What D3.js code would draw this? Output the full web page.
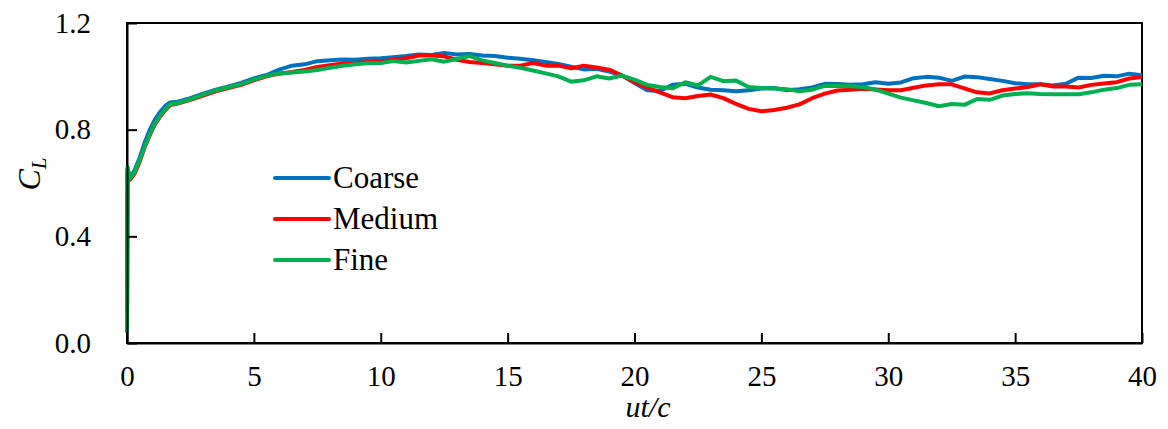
<!DOCTYPE html>
<html>
<head>
<meta charset="utf-8">
<script src="https://cdn.jsdelivr.net/npm/d3@7"></script>
<style>
  body { margin: 0; background: #fff; }
  #chart text { font-family: 'Liberation Serif'; }
</style>
</head>
<body>
<svg id="chart" width="1168" height="429"></svg>
<script>
// time axis (ut/c), shared by all three grids
const ut = [0, 0.02, 0.12, 0.3, 0.5, 0.7, 0.9, 1.1, 1.3, 1.5, 1.7,
  2.0, 2.5, 3.0, 3.5, 4.0, 4.5, 5.0, 5.5, 6.0, 6.5, 7.0, 7.5, 8.0, 8.5, 9.0, 9.5,
  10.0, 10.5, 11.0, 11.5, 12.0, 12.5, 13.0, 13.5, 14.0, 14.5, 15.0, 15.5, 16.0, 16.5,
  17.0, 17.5, 18.0, 18.5, 19.0, 19.5, 20.0, 20.5, 21.0, 21.5, 22.0, 22.5, 23.0, 23.5,
  24.0, 24.5, 25.0, 25.5, 26.0, 26.5, 27.0, 27.5, 28.0, 28.5, 29.0, 29.5, 30.0, 30.5,
  31.0, 31.5, 32.0, 32.5, 33.0, 33.5, 34.0, 34.5, 35.0, 35.5, 36.0, 36.5, 37.0, 37.5,
  38.0, 38.5, 39.0, 39.5, 40.0];

const coarse = [0.04, 0.65, 0.62, 0.648, 0.695, 0.752, 0.8, 0.838, 0.866, 0.888, 0.902,
  0.905, 0.918, 0.935, 0.95, 0.962, 0.975, 0.992, 1.005, 1.025, 1.04, 1.045, 1.057, 1.06, 1.063, 1.062, 1.066,
  1.068, 1.072, 1.076, 1.082, 1.08, 1.088, 1.082, 1.084, 1.078, 1.076, 1.07, 1.066, 1.06, 1.054,
  1.046, 1.036, 1.026, 1.028, 1.018, 1.004, 0.975, 0.948, 0.945, 0.968, 0.972, 0.958, 0.95, 0.948,
  0.944, 0.948, 0.954, 0.956, 0.948, 0.952, 0.958, 0.972, 0.971, 0.968, 0.97, 0.978, 0.972, 0.977,
  0.993, 0.998, 0.995, 0.983, 0.999, 0.997, 0.99, 0.983, 0.974, 0.97, 0.97, 0.966, 0.972, 0.995,
  0.994, 1.002, 1.0, 1.01, 1.004];

const medium = [0.04, 0.65, 0.612, 0.635, 0.68, 0.735, 0.78, 0.82, 0.848, 0.872, 0.892,
  0.898, 0.912, 0.928, 0.944, 0.956, 0.968, 0.985, 1.0, 1.01, 1.016, 1.024, 1.035, 1.042, 1.048, 1.05, 1.054,
  1.056, 1.062, 1.068, 1.078, 1.078, 1.075, 1.062, 1.054, 1.05, 1.045, 1.04, 1.04, 1.05, 1.04,
  1.04, 1.03, 1.04, 1.033, 1.025, 1.003, 0.978, 0.958, 0.94, 0.922, 0.918, 0.926, 0.932, 0.918,
  0.897, 0.878, 0.869, 0.874, 0.882, 0.895, 0.918, 0.935, 0.947, 0.95, 0.953, 0.951, 0.948, 0.948,
  0.957, 0.966, 0.97, 0.97, 0.955, 0.94, 0.936, 0.948, 0.954, 0.96, 0.97, 0.962, 0.962, 0.958,
  0.968, 0.973, 0.978, 0.992, 0.997];

const fine = [0.04, 0.66, 0.617, 0.64, 0.685, 0.738, 0.783, 0.823, 0.851, 0.875, 0.895,
  0.9, 0.914, 0.931, 0.947, 0.959, 0.971, 0.988, 1.002, 1.011, 1.014, 1.018, 1.024, 1.032, 1.04, 1.045, 1.049,
  1.05, 1.057, 1.052, 1.058, 1.064, 1.055, 1.065, 1.076, 1.06, 1.05, 1.04, 1.032, 1.022, 1.011,
  1.0, 0.98, 0.985, 1.0, 0.992, 1.003, 0.988, 0.968, 0.96, 0.955, 0.978, 0.966, 0.998, 0.982,
  0.984, 0.96, 0.956, 0.954, 0.952, 0.944, 0.95, 0.964, 0.964, 0.963, 0.96, 0.95, 0.935, 0.92,
  0.91, 0.9, 0.888, 0.896, 0.893, 0.915, 0.912, 0.928, 0.934, 0.937, 0.934, 0.933, 0.933, 0.933,
  0.94, 0.95, 0.956, 0.968, 0.97];

const seriesNames = ["Coarse", "Medium", "Fine"];
const seriesColors = ["#0070c0", "#ff0000", "#00b050"];
const xTicks = [0, 5, 10, 15, 20, 25, 30, 35, 40];
const yTicks = [0.0, 0.4, 0.8, 1.2];

const width = 1168, height = 429;
const margin = { left: 127, right: 26, top: 23, bottom: 86 };

const svg = d3.select("#chart");

const x = d3.scaleLinear().domain([0, 40]).range([margin.left, width - margin.right]);
const y = d3.scaleLinear().domain([0, 1.2]).range([height - margin.bottom, margin.top]);

// frame (top / right)
svg.append("rect")
  .attr("x", x(0)).attr("y", y(1.2))
  .attr("width", x(40) - x(0)).attr("height", y(0) - y(1.2))
  .attr("fill", "none").attr("stroke", "#000").attr("stroke-width", 2);

const data = [coarse, medium, fine];
const line = d3.line()
  .x((d, i) => x(ut[i]))
  .y(d => y(d));

data.forEach((vals, k) => {
  svg.append("path")
    .datum(vals)
    .attr("fill", "none")
    .attr("stroke", seriesColors[k])
    .attr("stroke-width", 4)
    .attr("stroke-linejoin", "round")
    .attr("d", line);
});

// axes, ticks pointing inward
const xAxis = svg.append("g")
  .attr("transform", `translate(0,${y(0)})`)
  .call(d3.axisBottom(x).tickValues(xTicks).tickSize(-10).tickPadding(22).tickSizeOuter(0));
const yAxis = svg.append("g")
  .attr("transform", `translate(${x(0)},0)`)
  .call(d3.axisLeft(y).tickValues(yTicks).tickFormat(d3.format(".1f")).tickSize(-10).tickPadding(36).tickSizeOuter(0));

[xAxis, yAxis].forEach(g => {
  g.attr("font-family", "Liberation Serif").attr("font-size", 29);
  g.select(".domain").attr("stroke-width", 2);
  g.selectAll(".tick line").attr("stroke-width", 2);
  g.selectAll("text").attr("fill", "#000");
});

// axis titles
svg.append("text")
  .attr("x", 648).attr("y", 417)
  .attr("text-anchor", "middle")
  .attr("font-size", 30).attr("font-style", "italic")
  .text("ut/c");

const yl = svg.append("text")
  .attr("transform", "translate(40,174) rotate(-90)")
  .attr("text-anchor", "middle")
  .attr("font-size", 32).attr("font-style", "italic");
yl.append("tspan").text("C");
yl.append("tspan").attr("font-size", 21).attr("dy", 6).text("L");

// legend
const legend = svg.append("g").attr("font-size", 31);
seriesNames.forEach((name, k) => {
  const ly = 178 + k * 41;
  legend.append("line")
    .attr("x1", 275).attr("x2", 329).attr("y1", ly).attr("y2", ly)
    .attr("stroke", seriesColors[k]).attr("stroke-width", 4).attr("stroke-linecap", "round");
  legend.append("text")
    .attr("x", 333).attr("y", ly + 10)
    .text(name);
});
</script>
</body>
</html>
